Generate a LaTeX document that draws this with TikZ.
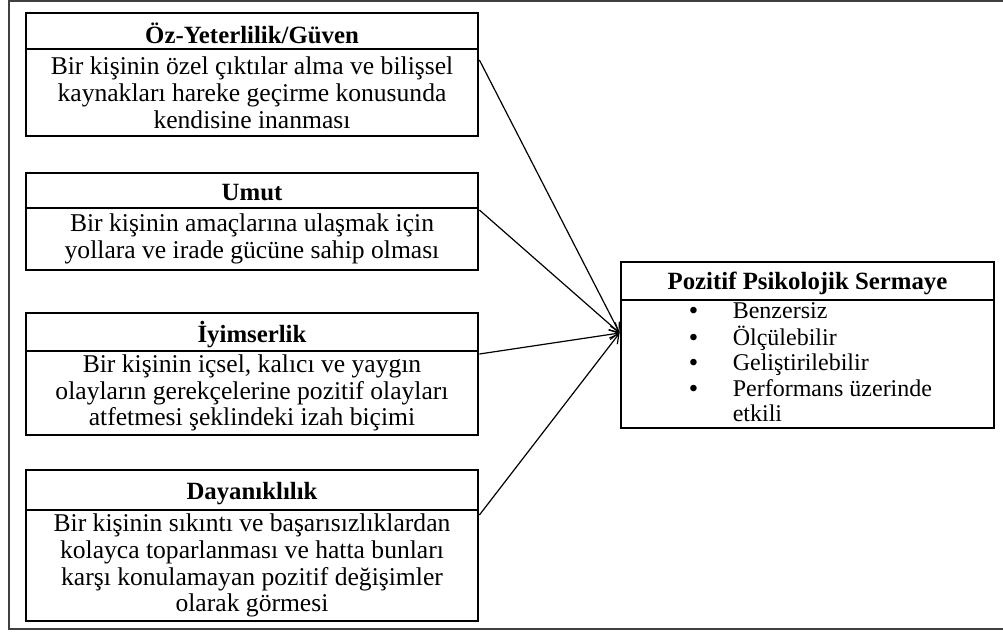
\documentclass[tikz,border=0pt]{standalone}
\usepackage{fontspec}
\setmainfont{Liberation Serif}
\usetikzlibrary{calc,positioning,arrows.meta}

\begin{document}
\begin{tikzpicture}[x=0.5pt,y=-0.5pt,
  kutu/.style={draw, line width=1.4pt, inner sep=0pt},
  baslik/.style={inner sep=0pt, font=\fontsize{12.4}{13}\selectfont\bfseries},
  metin/.style={align=center, inner sep=0pt, font=\fontsize{12.8}{13.4}\selectfont},
  liste/.style={inner sep=0pt, font=\fontsize{12}{12.7}\selectfont},
  ayrac/.style={line width=0.7pt},
  ok/.style={-{Straight Barb[length=4.5pt,width=5pt]}, line width=0.6pt}]
\useasboundingbox (0,0) rectangle (1003,632);
\draw[black!75, line width=0.6pt] (1003,1) -- (9,1) -- (9,629) -- (1003,629);
\node[kutu, minimum width=226pt, minimum height=61.5pt] (k1) at (252,74.5) {};
\node[kutu, minimum width=226pt, minimum height=48.5pt] (k2) at (252,221.5) {};
\node[kutu, minimum width=226pt, minimum height=61pt] (k3) at (252,374) {};
\node[kutu, minimum width=226pt, minimum height=75.5pt] (k4) at (252,545.5) {};
\node[kutu, minimum width=186.5pt, minimum height=83pt] (ps) at (807.5,345) {};
\draw[ayrac] (k1.west |- 0,49) -- (k1.east |- 0,49);
\draw[ayrac] (k2.west |- 0,208) -- (k2.east |- 0,208);
\draw[ayrac] (k3.west |- 0,351) -- (k3.east |- 0,351);
\draw[ayrac] (k4.west |- 0,510) -- (k4.east |- 0,510);
\draw[ayrac] (ps.west |- 0,300) -- (ps.east |- 0,300);
\node[baslik] (k1b) at (252,33) {Öz-Yeterlilik/Güven};
\node[baslik] (k2b) at (252,193) {Umut};
\node[baslik] (k3b) at (252,335) {İyimserlik};
\node[baslik] (k4b) at (252,494) {Dayanıklılık};
\node[baslik] (psb) at (807.5,283) {Pozitif Psikolojik Sermaye};
\node[metin] (k1m) at (252,92.5) {Bir kişinin özel çıktılar alma ve bilişsel\\kaynakları hareke geçirme konusunda\\kendisine inanması};
\node[metin] (k2m) at (252,239) {Bir kişinin amaçlarına ulaşmak için\\yollara ve irade gücüne sahip olması};
\node[metin] (k3m) at (252,393) {Bir kişinin içsel, kalıcı ve yaygın\\olayların gerekçelerine pozitif olayları\\atfetmesi şeklindeki izah biçimi};
\node[metin] (k4m) at (252,565.5) {Bir kişinin sıkıntı ve başarısızlıklardan\\kolayca toparlanması ve hatta bunları\\karşı konulamayan pozitif değişimler\\olarak görmesi};
\node[liste, anchor=west] (psm) at (689,365) {\begin{tabular}{@{}l@{\hspace{17.5pt}}l@{}}
\textbf{•}&Benzersiz\\
\textbf{•}&Ölçülebilir\\
\textbf{•}&Geliştirilebilir\\
\textbf{•}&Performans üzerinde\\
&etkili
\end{tabular}};
\draw[ok] (k1.east |- 0,60) -- (ps.west |- 0,333);
\draw[ok] (k2.east |- 0,210) -- (ps.west |- 0,333);
\draw[ok] (k3.east |- 0,354) -- (ps.west |- 0,333);
\draw[ok] (k4.east |- 0,515) -- (ps.west |- 0,333);
\end{tikzpicture}
\end{document}
